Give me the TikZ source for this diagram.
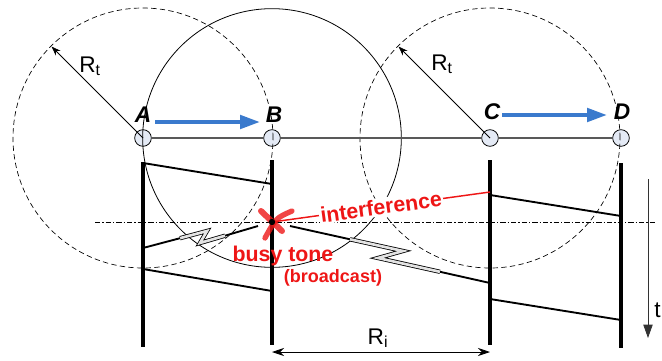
\documentclass[tikz,border=0pt]{standalone}
\usepackage{fontspec}
\setmainfont{Liberation Sans}
\usetikzlibrary{arrows.meta,calc}
\definecolor{nodefill}{RGB}{228,234,245}
\definecolor{flowblue}{RGB}{58,122,205}
\definecolor{busyred}{RGB}{238,22,22}

\begin{document}
\begin{tikzpicture}[x=0.75pt,y=-0.75pt,
    station/.style={draw, circle, fill=nodefill, minimum size=12.5pt, inner sep=0pt, line width=0.6pt},
    letter/.style={font=\fontsize{17}{19}\selectfont\bfseries\itshape},
    rlabel/.style={font=\fontsize{17}{19}\selectfont},
    redtext/.style={text=busyred, font=\fontsize{16}{18}\selectfont\bfseries},
    txrange/.style={dash pattern=on 4pt off 2.5pt, line width=0.5pt},
    timeline/.style={line width=2.6pt},
    msg/.style={line width=1.4pt},
    zig/.style={double=gray!22, double distance=2pt, line width=0.6pt},
    flow/.style={flowblue, line width=3pt, -{Triangle[length=15pt,width=10pt]}}]
    \useasboundingbox (0,0) rectangle (662,361);
    \node[station] (A) at (143,138) {};
    \node[station] (B) at (272,138) {};
    \node[station] (C) at (490,138) {};
    \node[station] (D) at (621,138) {};
    \node[letter] (lA) at (143,115) {A};
    \node[letter] (lB) at (274,115) {B};
    \node[letter] (lC) at (492,112) {C};
    \node[letter] (lD) at (622,112) {D};
    \draw[txrange] (A.center) circle[radius=97.5pt];
    \draw[txrange] (C.center) circle[radius=97.5pt];
    \draw[line width=0.6pt] (B.center) circle[radius=97pt];
    \draw[gray!70!black, line width=1.1pt] (A) -- (B);
    \draw[gray!70!black, line width=1.1pt] (B) -- (C);
    \draw[gray!70!black, line width=1.1pt] (C) -- (D);
    \draw[-{Stealth[length=7pt,width=5pt]}, line width=0.6pt] (A.center) -- ($(A.center)+(135:97pt)$);
    \draw[-{Stealth[length=7pt,width=5pt]}, line width=0.6pt] (C.center) -- ($(C.center)+(135:97pt)$);
    \node[rlabel] (rtA) at (90,66) {R\textsubscript{t}};
    \node[rlabel] (rtC) at (442,64) {R\textsubscript{t}};
    \draw[flow] (155,122) -- (260,122);
    \draw[flow] (502,115) -- (607,115);
    \draw[timeline] (A |- 0,162) -- (A |- 0,347);
    \draw[timeline] (B |- 0,160) -- (B |- 0,345);
    \draw[timeline] (C |- 0,160) -- (C |- 0,345);
    \draw[timeline] (D |- 0,163) -- (D |- 0,348);
    \draw[line width=0.5pt, dash pattern=on 4pt off 1.5pt on 1pt off 1.5pt] (95,222) -- (657,222);
    \draw[msg] (A |- 0,163) -- (B |- 0,184);
    \draw[msg] (A |- 0,269) -- (B |- 0,291);
    \draw[msg] (C |- 0,195) -- (D |- 0,216);
    \draw[msg] (C |- 0,299) -- (D |- 0,320);
    \draw[msg] (258,226) -- (225,235.7);
    \draw[zig] (225,235.7) -- (200,243) -- (207,231) -- (180,238.2);
    \draw[msg] (180,238.2) -- (A |- 0,248);
    \draw[msg] (290,226) -- (350,239.3);
    \draw[zig] (350,239.3) -- (403,251) -- (378,258) -- (440,271.8);
    \draw[msg] (440,271.8) -- (C |- 0,283);
    \coordinate (X) at (272,222);
    \draw[busyred, line width=1.1pt] (X) -- node[sloped, fill=white, inner sep=1pt, redtext] {interference} (C |- 0,192);
    \draw[busyred, opacity=0.8, line width=4.5pt, line cap=round] (261,211) -- (282,231);
    \draw[busyred, opacity=0.8, line width=4pt, line cap=round] (292,211) .. controls (276,218) .. (265,238);
    \fill (X) circle[radius=2.4pt];
    \node[redtext] (busy) at (283,256) {busy tone};
    \node[redtext, font=\fontsize{13.5}{15}\selectfont\bfseries] (bcast) at (333,278) {(broadcast)};
    \draw[{Stealth[length=9pt,width=6pt]}-{Stealth[length=9pt,width=6pt]}, line width=0.6pt] (B |- 0,352) -- (C |- 0,352);
    \node[rlabel] (ri) at (378,338) {R\textsubscript{i}};
    \draw[gray!40!black, line width=0.6pt, -{Triangle[length=10pt,width=7pt]}] (648,179) -- (648,338);
    \node[rlabel, anchor=west, inner sep=0pt] (t) at (654,310) {t};
\end{tikzpicture}
\end{document}
